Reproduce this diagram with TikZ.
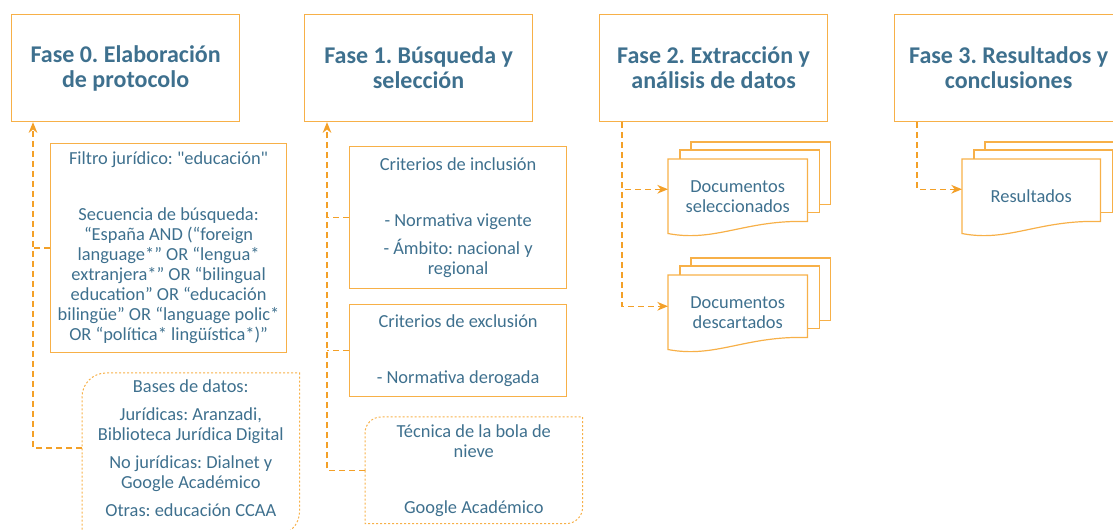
\documentclass[tikz,border=0pt]{standalone}
\usepackage{fontspec}
\setmainfont{Carlito}[Ligatures=TeXOff]
\usepackage{tikz}
\usetikzlibrary{positioning,arrows.meta}
\frenchspacing

\definecolor{txtblue}{RGB}{62,112,142}
\definecolor{boxorange}{RGB}{247,176,72}
\definecolor{linkorange}{RGB}{243,160,40}

\tikzset{
  phase/.style={draw=boxorange,line width=0.9pt,anchor=north west,align=center,text=txtblue,
    minimum width=171pt,minimum height=80.25pt,font=\bfseries\fontsize{18}{18.75}\selectfont},
  note/.style={draw=boxorange,line width=0.9pt,anchor=north west,align=center,text=txtblue,
    font=\fontsize{13.8}{15}\selectfont},
  softnote/.style={anchor=north west,align=center,text=txtblue,font=\fontsize{13.8}{15}\selectfont},
  softline/.style={draw=boxorange,line width=0.75pt,dash pattern=on 1.5pt off 1.5pt},
  doc/.style={anchor=north west,align=center,text=txtblue,minimum width=104.25pt,
    minimum height=55.5pt,font=\fontsize{13.8}{15}\selectfont},
  docline/.style={draw=boxorange,line width=0.9pt},
  link/.style={draw=linkorange,line width=1.1pt,dash pattern=on 4.5pt off 3pt},
  tip/.style={-{Stealth[length=8pt,width=6.5pt,inset=2.5pt]}}
}

% stacked document outline around a named node
\newcommand{\docstack}[1]{%
  \draw[docline] ([xshift=17.25pt,yshift=6.75pt]#1.north west) -- ([xshift=17.25pt,yshift=12.75pt]#1.north west)
    -- ([xshift=17.25pt,yshift=12.75pt]#1.north east) -- ([xshift=17.25pt,yshift=21.75pt]#1.south east)
    -- ([xshift=9pt,yshift=21.75pt]#1.south east);
  \draw[docline] ([xshift=9pt]#1.north west) -- ([xshift=9pt,yshift=6.75pt]#1.north west)
    -- ([xshift=9pt,yshift=6.75pt]#1.north east) -- ([xshift=9pt,yshift=15.75pt]#1.south east)
    -- ([yshift=15.75pt]#1.south east);
  \draw[docline] (#1.north west) -- (#1.north east) -- ([yshift=9pt]#1.south east)
    .. controls ([xshift=-46.5pt,yshift=10.5pt]#1.south east) and ([xshift=-69pt,yshift=-6.75pt]#1.south east)
    .. (#1.south west) -- cycle;
}

\begin{document}
\begin{tikzpicture}[x=0.75pt,y=-0.75pt]
  \useasboundingbox (0,0) rectangle (1113,530);

  % phases
  \node[phase] (fase0) at (11,14) {Fase 0. Elaboración\\de protocolo};
  \node[phase] (fase1) at (304,14) {Fase 1. Búsqueda y\\selección};
  \node[phase] (fase2) at (599,14) {Fase 2. Extracción y\\análisis de datos};
  \node[phase] (fase3) at (894,14) {Fase 3. Resultados y\\conclusiones};

  % fase 0
  \node[note,minimum width=177pt,minimum height=156.75pt] (filtro) at (50,143)
    {Filtro jurídico: "educación"\\[27pt]
     Secuencia de búsqueda:\\
     “España AND (“foreign\\
     language*” OR “lengua*\\
     extranjera*” OR “bilingual\\
     education” OR “educación\\
     bilingüe” OR “language polic*\\
     OR “política* lingüística*)”};
  \node[softnote,minimum width=162.75pt,minimum height=121.5pt,text depth=8.5pt] (bases) at (82,373)
    {Bases de datos:\\[6pt]
     Jurídicas: Aranzadi,\\
     Biblioteca Jurídica Digital\\[6pt]
     No jurídicas: Dialnet y\\
     Google Académico\\[6pt]
     Otras: educación CCAA};
  \draw[softline] (bases.west) [rounded corners=18pt] |- (bases.north) [sharp corners] -| (bases.east)
    [rounded corners=18pt] |- (bases.south) [sharp corners] -| (bases.west);

  % fase 1
  \node[note,minimum width=162.75pt,minimum height=106.5pt] (incl) at (349,146)
    {Criterios de inclusión\\[27pt]
     - Normativa vigente\\[6pt]
     - Ámbito: nacional y\\
     regional};
  \node[note,minimum width=162.75pt,minimum height=69pt] (excl) at (349,304)
    {Criterios de exclusión\\[27pt]
     - Normativa derogada};
  \node[softnote,minimum width=162.75pt,minimum height=79.5pt] (bola) at (365,417)
    {Técnica de la bola de\\
     nieve\\[27pt]
     Google Académico};
  \draw[softline] (bola.west) [rounded corners=12pt] |- (bola.north) [sharp corners] -| (bola.east)
    [rounded corners=12pt] |- (bola.south) [sharp corners] -| (bola.west);

  % fase 2 and 3
  \node[doc] (docsel) at (668,159) {Documentos\\seleccionados};
  \node[doc] (docdesc) at (668,275) {Documentos\\descartados};
  \node[doc,minimum width=103.5pt] (docres) at (962,159) {Resultados};
  \docstack{docsel}
  \docstack{docdesc}
  \docstack{docres}

  % connectors
  \coordinate (sp0) at (33,448);
  \coordinate (sp1) at (327,0);
  \coordinate (sp2) at (622,0);
  \coordinate (sp3) at (917,0);
  \draw[link,tip] (bases.west |- sp0) -| (fase0.south -| sp0);
  \draw[link] (filtro.west) -- (filtro.west -| sp0);
  \draw[link,tip] (bola.west) -| (fase1.south -| sp1);
  \draw[link] (incl.west) -- (incl.west -| sp1);
  \draw[link] (excl.west) -- (excl.west -| sp1);
  \draw[link,tip] (fase2.south -| sp2) |- ([yshift=5.25pt]docsel.west);
  \draw[link,tip] (fase2.south -| sp2) |- ([yshift=4.5pt]docdesc.west);
  \draw[link,tip] (fase3.south -| sp3) |- ([yshift=5.25pt]docres.west);
\end{tikzpicture}
\end{document}
